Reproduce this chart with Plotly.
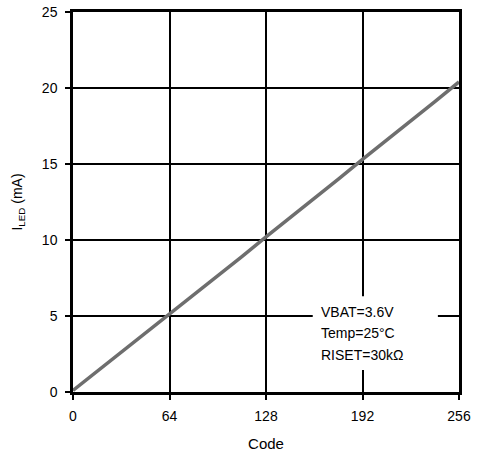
import plotly.graph_objects as go

codes = [0, 16, 32, 48, 64, 80, 96, 112, 128, 144, 160, 176, 192, 208, 224, 240, 256]
iled_ma = [0.1, 1.35, 2.6, 3.85, 5.1, 6.4, 7.65, 8.9, 10.2, 11.45, 12.75, 14.0,
           15.3, 16.55, 17.8, 19.1, 20.4]
x_ticks = [0, 64, 128, 192, 256]
y_ticks = [0, 5, 10, 15, 20, 25]
note_lines = ["VBAT=3.6V", "Temp=25°C", "RISET=30kΩ"]
note_y = [5.26, 3.88, 2.45]

fig = go.Figure()
fig.add_trace(go.Scatter(x=codes, y=iled_ma, mode="lines",
                         line=dict(color="#6e6e6e", width=3.5),
                         showlegend=False, cliponaxis=False))

# white box behind the conditions text
fig.add_shape(type="rect", xref="x", yref="y", x0=159, x1=242, y0=1.45, y1=6.3,
              fillcolor="white", line=dict(width=0), layer="above")
for txt, yy in zip(note_lines, note_y):
    fig.add_annotation(x=163, y=yy, xref="x", yref="y", showarrow=False,
                       xanchor="left", text=txt, align="left",
                       font=dict(size=14, color="black"))

axis_common = dict(showline=True, mirror=True, linecolor="black", linewidth=2.5,
                   showgrid=True, gridcolor="black", gridwidth=2,
                   ticks="outside", ticklen=5, tickwidth=2, tickcolor="black",
                   zeroline=False, tickfont=dict(size=14, color="black"))

fig.update_xaxes(range=[0, 256], tickvals=x_ticks, ticklabelstandoff=4,
                 title=dict(text="Code", font=dict(size=15, color="black"), standoff=16),
                 **axis_common)
fig.update_yaxes(range=[0, 25], tickvals=y_ticks, ticklabelstandoff=5,
                 title=dict(text="I<sub>LED</sub> (mA)", font=dict(size=14, color="black"),
                            standoff=16),
                 **axis_common)

fig.update_layout({
    "width": 481, "height": 459,
    "margin": dict(l=73, r=22, t=12, b=67, autoexpand=False),
    "paper_bgcolor": "white",
    "plot_bgcolor": "white",
    "font": {"family": "Liberation Sans, Arial, sans-serif", "color": "black"}})

fig.write_html("out.html", config={"displayModeBar": False},
               post_script="document.body.style.margin='0';document.body.style.padding='0';")
